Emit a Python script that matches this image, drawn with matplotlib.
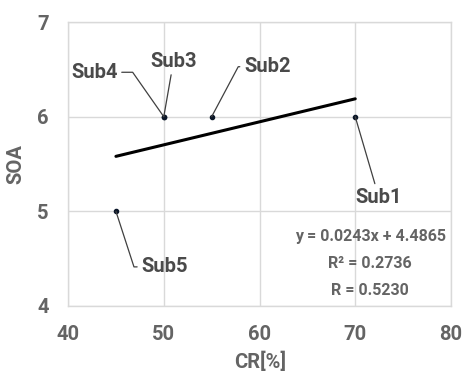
import matplotlib
matplotlib.use('Agg')
import matplotlib.pyplot as plt
import numpy as np

# subjects: CR [%] vs SOA
subjects = ['Sub1', 'Sub2', 'Sub3', 'Sub4', 'Sub5']
cr = [70, 55, 50, 50, 45]
soa = [6, 6, 6, 6, 5]

x_ticks = [40, 50, 60, 70, 80]
y_ticks = [4, 5, 6, 7]
fit_lines = ['y = 0.0243x + 4.4865', 'R² = 0.2736', 'R = 0.5230']

# label offsets in points (text centre relative to point) and leader angle
label_offsets = {
    'Sub1': ((17, -58), None),
    'Sub2': ((40, 36), 62),
    'Sub3': ((7, 40), None),
    'Sub4': ((-50, 32), 125),
    'Sub5': ((35, -40), 108),
}

plt.rcParams['font.family'] = ['Roboto', 'DejaVu Sans']

fig = plt.figure(figsize=(4.63, 3.81), dpi=100)
ax = fig.add_axes([0.147, 0.197, 0.827, 0.745])

grid_col = '#d9d9d9'
tick_col = '#646464'
ax.set_xlim(40, 80)
ax.set_ylim(4, 7)
ax.set_xticks(x_ticks)
ax.set_yticks(y_ticks)
ax.grid(True, color=grid_col, linewidth=1)
ax.set_axisbelow(True)
for s in ax.spines.values():
    s.set_color(grid_col)
    s.set_linewidth(1)
ax.tick_params(length=0, labelsize=14.5, colors=tick_col, pad=14)
for lab in ax.get_xticklabels() + ax.get_yticklabels():
    lab.set_fontweight('bold')

# linear trend line between min and max x
k, b = np.polyfit(cr, soa, 1)
xs = np.array([min(cr), max(cr)])
ax.plot(xs, k * xs + b, color='black', linewidth=2.2, solid_capstyle='round')

ax.plot(cr, soa, 'o', color='#0a1628', markersize=3, zorder=3)

for name, x, y in zip(subjects, cr, soa):
    off, ang = label_offsets[name]
    if ang is None:
        cs = 'arc3,rad=0'
    else:
        cs = 'angle,angleA=0,angleB=%d,rad=0' % ang
    ax.annotate(name, xy=(x, y), xytext=off, textcoords='offset points',
                ha='center', va='center', fontsize=14.5, color='#4a4a4a',
                fontweight='bold',
                arrowprops=dict(arrowstyle='-', color='#404040', lw=0.9,
                                connectionstyle=cs, shrinkA=1, shrinkB=0))

for txt, yf in zip(fit_lines, [0.246, 0.151, 0.053]):
    ax.text(0.789, yf, txt, transform=ax.transAxes, ha='center', va='center',
            fontsize=11.5, color=tick_col, fontweight='bold')

fig.text(0.035, 0.57, 'SOA', rotation=90, ha='center', va='center',
         fontsize=14.5, color=tick_col, fontweight='bold')
fig.text(0.562, 0.05, 'CR[%]', ha='center', va='center',
         fontsize=14.5, color=tick_col, fontweight='bold')

fig.savefig('out.png', dpi=100)
